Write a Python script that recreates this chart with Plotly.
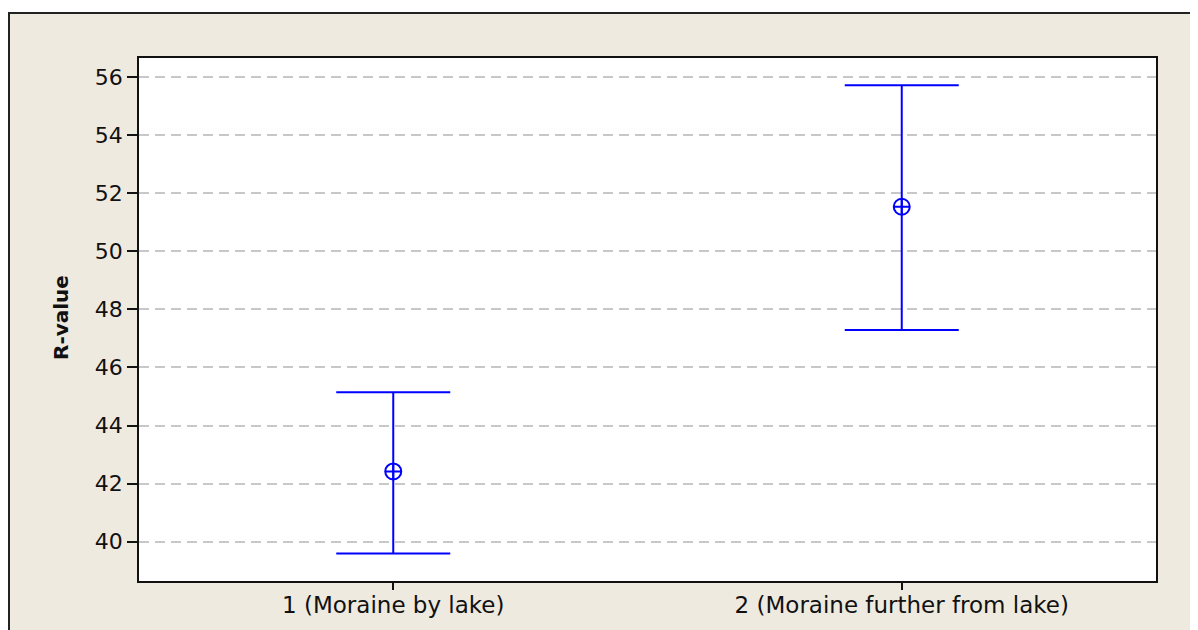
import plotly.graph_objects as go

categories = ["1 (Moraine by lake)", "2 (Moraine further from lake)"]
means = [42.42, 51.53]
upper = [45.15, 55.71]
lower = [39.60, 47.29]
y_ticks = [40, 42, 44, 46, 48, 50, 52, 54, 56]

plus = [u - m for u, m in zip(upper, means)]
minus = [m - l for m, l in zip(means, lower)]

# page body adds an 8px offset around the figure
OFF = 8
W, H = 1198, 630
L, R, T, B = 139 - OFF, 1156 - OFF, 58 - OFF, 581 - OFF

def px_to_paper_x(px):
    return (px - OFF - L) / (R - L)

def px_to_paper_y(py):
    return (B - (py - OFF)) / (B - T)

fig = go.Figure()
fig.add_trace(go.Scatter(
    x=[0, 1], y=means, mode="markers",
    marker=dict(symbol="circle-cross-open", size=16, color="#0000ff",
                line=dict(width=2, color="#0000ff")),
    error_y=dict(type="data", symmetric=False, array=plus, arrayminus=minus,
                 color="#0000ff", thickness=2, width=57),
    showlegend=False, hoverinfo="skip",
))

beige = "#eeeae0"
fig.update_layout(
    width=W, height=H,
    margin=dict(l=L, r=W - R, t=T, b=H - B),
    paper_bgcolor="white",
    plot_bgcolor="white",
    font=dict(family="DejaVu Sans", color="#111111"),
    shapes=[
        dict(type="rect", xref="paper", yref="paper", layer="below",
             x0=px_to_paper_x(9), x1=px_to_paper_x(1240),
             y0=px_to_paper_y(680), y1=px_to_paper_y(13),
             fillcolor=beige, line=dict(color="#222222", width=2)),
        dict(type="rect", xref="paper", yref="paper", layer="below",
             x0=0, x1=1, y0=0, y1=1, fillcolor="white", line=dict(width=0)),
    ],
    annotations=[
        dict(text="<b>R-value</b>", xref="paper", yref="paper",
             x=px_to_paper_x(61), y=px_to_paper_y(318), showarrow=False,
             textangle=-90, font=dict(size=20, family="DejaVu Sans", color="#111111"),
             xanchor="center", yanchor="middle"),
    ],
)

fig.update_xaxes(
    range=[-0.5, 1.5], tickvals=[0, 1], ticktext=categories,
    tickfont=dict(size=23, family="DejaVu Sans", color="#111111"),
    ticks="outside", ticklen=7, tickwidth=1.5, tickcolor="#111111",
    ticklabelstandoff=-4,
    showline=True, linecolor="#111111", linewidth=1.5, mirror=True,
    showgrid=False, zeroline=False, fixedrange=True,
)
fig.update_yaxes(
    range=[38.65, 56.65], tickvals=y_ticks, ticktext=[str(v) for v in y_ticks],
    tickfont=dict(size=22, family="DejaVu Sans", color="#111111"),
    ticks="outside", ticklen=10, tickwidth=1.5, tickcolor="#111111",
    showline=True, linecolor="#111111", linewidth=1.5, mirror=True,
    showgrid=True, gridcolor="#c8c8c8", gridwidth=1.5, griddash="10px,6px",
    zeroline=False, fixedrange=True,
)

fig.write_html("out.html")
